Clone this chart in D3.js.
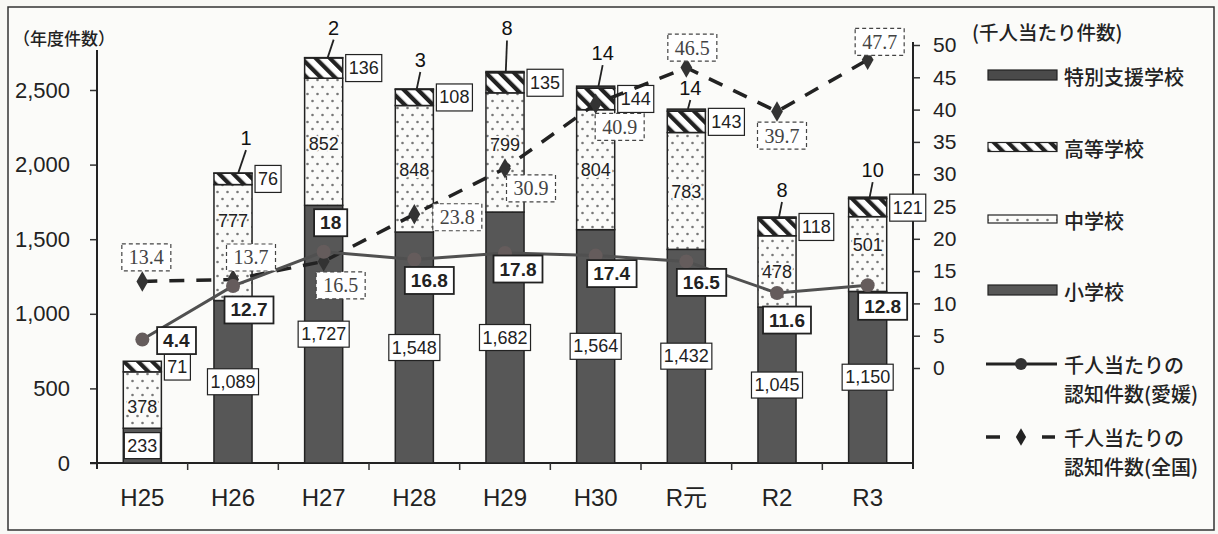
<!DOCTYPE html>
<html lang="ja">
<head>
<meta charset="UTF-8">
<title>いじめの認知件数の推移</title>
<script src="https://d3js.org/d3.v7.min.js"></script>
<style>
  body { margin: 0; background: #f8f8f5; }
  svg { display: block; font-family: "Liberation Sans", Arial, "Noto Sans CJK JP", sans-serif; }
  .jp { font-family: "Noto Sans CJK JP", sans-serif; font-weight: 500; }
</style>
</head>
<body>
<div id="chart"></div>
<script>
// --- data ---
const years = ["H25", "H26", "H27", "H28", "H29", "H30", "R元", "R2", "R3"];
const seriesNames = ["小学校", "中学校", "高等学校", "特別支援学校"];
const elementary = [233, 1089, 1727, 1548, 1682, 1564, 1432, 1045, 1150];
const juniorHigh = [378, 777, 852, 848, 799, 804, 783, 478, 501];
const highSchool = [71, 76, 136, 108, 135, 144, 143, 118, 121];
const special = [0, 1, 2, 3, 8, 14, 14, 8, 10];
const ehimeRate = [4.4, 12.7, 18, 16.8, 17.8, 17.4, 16.5, 11.6, 12.8];
const nationalRate = [13.4, 13.7, 16.5, 23.8, 30.9, 40.9, 46.5, 39.7, 47.7];
const leftTicks = [0, 500, 1000, 1500, 2000, 2500];
const rightTicks = [0, 5, 10, 15, 20, 25, 30, 35, 40, 45, 50];

// label placement (offsets from the marked point, layout only)
const ehimeLabelOff = [[34, 1], [16, 24], [7, -29], [15, 21], [13, 16], [16, 18], [15, 21], [10, 27], [15, 21]];
const nationalLabelOff = [[4, -24], [18, -22], [17, 24], [43, 3], [26, 20], [24, 23], [6, -20], [5, 24], [12, -18]];
const specialLabelOff = [[0, 0], [13, -35], [10, -30], [6, -29], [2, -43], [7, -33], [4, -21], [5, -27], [5, -27]];
const juniorLabelDy = [7, -22, 2, 1, -7, 0, 1, 1, -9];

const W = 1218, H = 534;
const plotLeft = 97, plotRight = 913, plotBottom = 463;

const svg = d3.select("#chart").append("svg")
    .attr("width", W).attr("height", H);

// patterns
const defs = svg.append("defs");
const hatch = defs.append("pattern").attr("id", "hatch")
    .attr("patternUnits", "userSpaceOnUse")
    .attr("width", 10).attr("height", 10)
    .attr("patternTransform", "rotate(-45)");
hatch.append("rect").attr("width", 10).attr("height", 10).attr("fill", "#fff");
hatch.append("line").attr("x1", 2).attr("y1", 0).attr("x2", 2).attr("y2", 10)
    .attr("stroke", "#222").attr("stroke-width", 4.5);

const dots = defs.append("pattern").attr("id", "dots")
    .attr("patternUnits", "userSpaceOnUse")
    .attr("width", 10).attr("height", 14);
dots.append("rect").attr("width", 10).attr("height", 14).attr("fill", "#fbfbf9");
dots.append("circle").attr("cx", 2.5).attr("cy", 3).attr("r", 1.3).attr("fill", "#777");
dots.append("circle").attr("cx", 7.5).attr("cy", 10).attr("r", 1.3).attr("fill", "#777");

// frame
svg.append("rect").attr("x", 8).attr("y", 7).attr("width", 1206).attr("height", 523)
    .attr("fill", "#fbfbf9").attr("stroke", "#333").attr("stroke-width", 1.5);

// scales
const x = d3.scaleBand().domain(years).range([plotLeft, plotRight]).padding(0);
const yL = d3.scaleLinear().domain([0, 2500]).range([plotBottom, 90]);
const yR = d3.scaleLinear().domain([0, 50]).range([368, 45]);
const barW = x.bandwidth() * 0.42;
const cx = d => x(d) + x.bandwidth() / 2;

// stacked data
const table = years.map((yr, i) => ({
    year: yr, "小学校": elementary[i], "中学校": juniorHigh[i],
    "高等学校": highSchool[i], "特別支援学校": special[i]
}));
const stacked = d3.stack().keys(seriesNames)(table);
const fills = { "小学校": "#575757", "中学校": "url(#dots)", "高等学校": "url(#hatch)", "特別支援学校": "#4a4a4a" };

// axes
const axL = svg.append("g").attr("transform", `translate(${plotLeft},0)`)
    .call(d3.axisLeft(yL).tickValues(leftTicks).tickFormat(d3.format(",")).tickSize(7).tickPadding(20));
axL.select(".domain").remove();
axL.selectAll("text").attr("font-size", 22).attr("fill", "#222");
axL.selectAll("line").attr("stroke", "#333").attr("stroke-width", 1.5);
svg.append("line").attr("x1", plotLeft).attr("x2", plotLeft)
    .attr("y1", plotBottom + 6).attr("y2", 50).attr("stroke", "#222").attr("stroke-width", 2);

const axR = svg.append("g").attr("transform", `translate(${plotRight},0)`)
    .call(d3.axisRight(yR).tickValues(rightTicks).tickSize(7).tickPadding(13));
axR.select(".domain").remove();
axR.selectAll("text").attr("font-size", 21).attr("fill", "#222");
axR.selectAll("line").attr("stroke", "#333").attr("stroke-width", 1.5);
svg.append("line").attr("x1", plotRight).attr("x2", plotRight)
    .attr("y1", plotBottom + 6).attr("y2", yR(50) - 3).attr("stroke", "#222").attr("stroke-width", 2);

// x axis: baseline, boundary ticks, labels
svg.append("line").attr("x1", plotLeft - 7).attr("x2", plotRight)
    .attr("y1", plotBottom).attr("y2", plotBottom).attr("stroke", "#222").attr("stroke-width", 2);
svg.append("g").selectAll("line").data(years.slice(1)).join("line")
    .attr("x1", d => x(d)).attr("x2", d => x(d))
    .attr("y1", plotBottom).attr("y2", plotBottom + 7)
    .attr("stroke", "#333").attr("stroke-width", 1.5);
svg.append("g").selectAll("text").data(years).join("text")
    .attr("x", d => cx(d)).attr("y", plotBottom + 34)
    .attr("text-anchor", "middle").attr("dominant-baseline", "central")
    .attr("font-size", 24).attr("fill", "#222")
    .text(d => d);

// bars
svg.append("g").selectAll("g").data(stacked).join("g")
    .attr("fill", s => fills[s.key])
    .selectAll("rect").data(s => s).join("rect")
    .attr("x", d => cx(d.data.year) - barW / 2)
    .attr("width", barW)
    .attr("y", d => yL(d[1]))
    .attr("height", d => yL(d[0]) - yL(d[1]))
    .attr("stroke", "#222").attr("stroke-width", 1.5);

// boxed label helper
function boxLabel(g, px, py, txt, o) {
    const grp = g.append("g");
    const r = grp.append("rect");
    const t = grp.append("text")
        .attr("x", px).attr("y", py)
        .attr("text-anchor", o.anchor || "middle").attr("dominant-baseline", "central")
        .attr("font-size", o.size).attr("font-weight", o.weight || "normal")
        .attr("fill", o.color || "#222")
        .style("font-family", o.family || null)
        .text(txt);
    const bb = t.node().getBBox();
    r.attr("x", bb.x - o.padX).attr("y", py - o.h / 2)
        .attr("width", bb.width + 2 * o.padX).attr("height", o.h)
        .attr("fill", "#fff").attr("stroke", o.stroke || "#222")
        .attr("stroke-width", o.sw || 1.2)
        .attr("stroke-dasharray", o.dash || null);
    return grp;
}

const lbl = svg.append("g");
const fmt = d3.format(",");

// elementary: boxed inside the bar
stacked[0].forEach((d, i) => {
    boxLabel(lbl, cx(years[i]), (yL(d[0]) + yL(d[1])) / 2, fmt(elementary[i]),
        { size: 18, padX: 3, h: 26, sw: 1.2 });
});
// junior high: plain text inside the dotted segment
stacked[1].forEach((d, i) => {
    lbl.append("text")
        .attr("x", cx(years[i])).attr("y", (yL(d[0]) + yL(d[1])) / 2 + juniorLabelDy[i])
        .attr("text-anchor", "middle").attr("dominant-baseline", "central")
        .attr("font-size", 18).attr("fill", "#222")
        .attr("stroke", "#fbfbf9").attr("stroke-width", 4).attr("paint-order", "stroke")
        .text(juniorHigh[i]);
});
// high school: boxed to the right of the bar
stacked[2].forEach((d, i) => {
    boxLabel(lbl, cx(years[i]) + barW / 2 + 6, (yL(d[0]) + yL(d[1])) / 2, highSchool[i],
        { size: 18, padX: 3, h: 27, anchor: "start", sw: 1.2 });
});
// special support: number above with leader line
stacked[3].forEach((d, i) => {
    if (!special[i]) return;
    const top = yL(d[1]);
    const [dx, dy] = specialLabelOff[i];
    const lx = cx(years[i]) + dx, ly = top + dy;
    if (ly + 11 < top - 4) {
        lbl.append("line")
            .attr("x1", cx(years[i]) + dx * 0.4).attr("y1", top)
            .attr("x2", lx).attr("y2", ly + 12)
            .attr("stroke", "#222").attr("stroke-width", 1.8);
    }
    lbl.append("text").attr("x", lx).attr("y", ly)
        .attr("text-anchor", "middle").attr("dominant-baseline", "central")
        .attr("font-size", 20).attr("fill", "#111")
        .text(special[i]);
});

// lines
const rateLine = d3.line().x((v, i) => cx(years[i])).y(v => yR(v));
svg.append("path").datum(nationalRate)
    .attr("d", rateLine).attr("fill", "none")
    .attr("stroke", "#222").attr("stroke-width", 3.5)
    .attr("stroke-dasharray", "15,12");
svg.append("g").selectAll("path").data(nationalRate).join("path")
    .attr("transform", (v, i) => `translate(${cx(years[i])},${yR(v)})`)
    .attr("d", d3.symbol(d3.symbolDiamond, 120))
    .attr("fill", "#333");

svg.append("path").datum(ehimeRate)
    .attr("d", rateLine).attr("fill", "none")
    .attr("stroke", "#505050").attr("stroke-width", 3);
svg.append("g").selectAll("circle").data(ehimeRate).join("circle")
    .attr("cx", (v, i) => cx(years[i])).attr("cy", v => yR(v))
    .attr("r", 7).attr("fill", "#655c5c");

// line labels
const lineLbl = svg.append("g");
nationalRate.forEach((v, i) => {
    const [dx, dy] = nationalLabelOff[i];
    boxLabel(lineLbl, cx(years[i]) + dx, yR(v) + dy, v.toFixed(1),
        { size: 20, padX: 7, h: 27, color: "#444", family: "'Liberation Serif', serif",
          stroke: "#444", sw: 1.2, dash: "4,3" });
});
ehimeRate.forEach((v, i) => {
    const [dx, dy] = ehimeLabelOff[i];
    boxLabel(lineLbl, cx(years[i]) + dx, yR(v) + dy, String(v),
        { size: 19, weight: "bold", padX: 6, h: 27, sw: 1.8 });
});

// axis titles
svg.append("text").attr("class", "jp").attr("x", 13).attr("y", 37)
    .attr("dominant-baseline", "central").attr("font-size", 17).attr("fill", "#222")
    .text("（年度件数）");
svg.append("text").attr("class", "jp").attr("x", 972).attr("y", 31)
    .attr("dominant-baseline", "central").attr("font-size", 19.5).attr("fill", "#222")
    .text("(千人当たり件数)");

// legend
const lg = svg.append("g");
const lgX = 988, lgW = 69, lgTx = 1064;
const barLegend = [
    { name: seriesNames[3], y: 75, h: 10 },
    { name: seriesNames[2], y: 147, h: 9 },
    { name: seriesNames[1], y: 219, h: 8 },
    { name: seriesNames[0], y: 290, h: 10 }
];
barLegend.forEach(d => {
    lg.append("rect").attr("x", lgX).attr("y", d.y - d.h / 2)
        .attr("width", lgW).attr("height", d.h)
        .attr("fill", fills[d.name]).attr("stroke", "#222").attr("stroke-width", 1.2);
    lg.append("text").attr("class", "jp").attr("x", lgTx).attr("y", d.y + 1)
        .attr("dominant-baseline", "central").attr("font-size", 20).attr("fill", "#222")
        .text(d.name);
});

// Ehime line legend
lg.append("line").attr("x1", lgX - 2).attr("x2", lgX + lgW).attr("y1", 364).attr("y2", 364)
    .attr("stroke", "#222").attr("stroke-width", 3);
lg.append("circle").attr("cx", lgX + 33).attr("cy", 364).attr("r", 6).attr("fill", "#333");
// national line legend
lg.append("line").attr("x1", lgX - 2).attr("x2", lgX + 12).attr("y1", 437).attr("y2", 437)
    .attr("stroke", "#222").attr("stroke-width", 3.5);
lg.append("line").attr("x1", lgX + 54).attr("x2", lgX + lgW - 2).attr("y1", 437).attr("y2", 437)
    .attr("stroke", "#222").attr("stroke-width", 3.5);
lg.append("path").attr("transform", `translate(${lgX + 33},437)`)
    .attr("d", d3.symbol(d3.symbolDiamond, 90)).attr("fill", "#222");

[["千人当たりの", 364], ["認知件数(愛媛)", 393], ["千人当たりの", 437], ["認知件数(全国)", 466]]
    .forEach(([t, y]) => {
        lg.append("text").attr("class", "jp").attr("x", lgTx).attr("y", y)
            .attr("dominant-baseline", "central").attr("font-size", 20).attr("fill", "#222")
            .text(t);
    });
</script>
</body>
</html>
